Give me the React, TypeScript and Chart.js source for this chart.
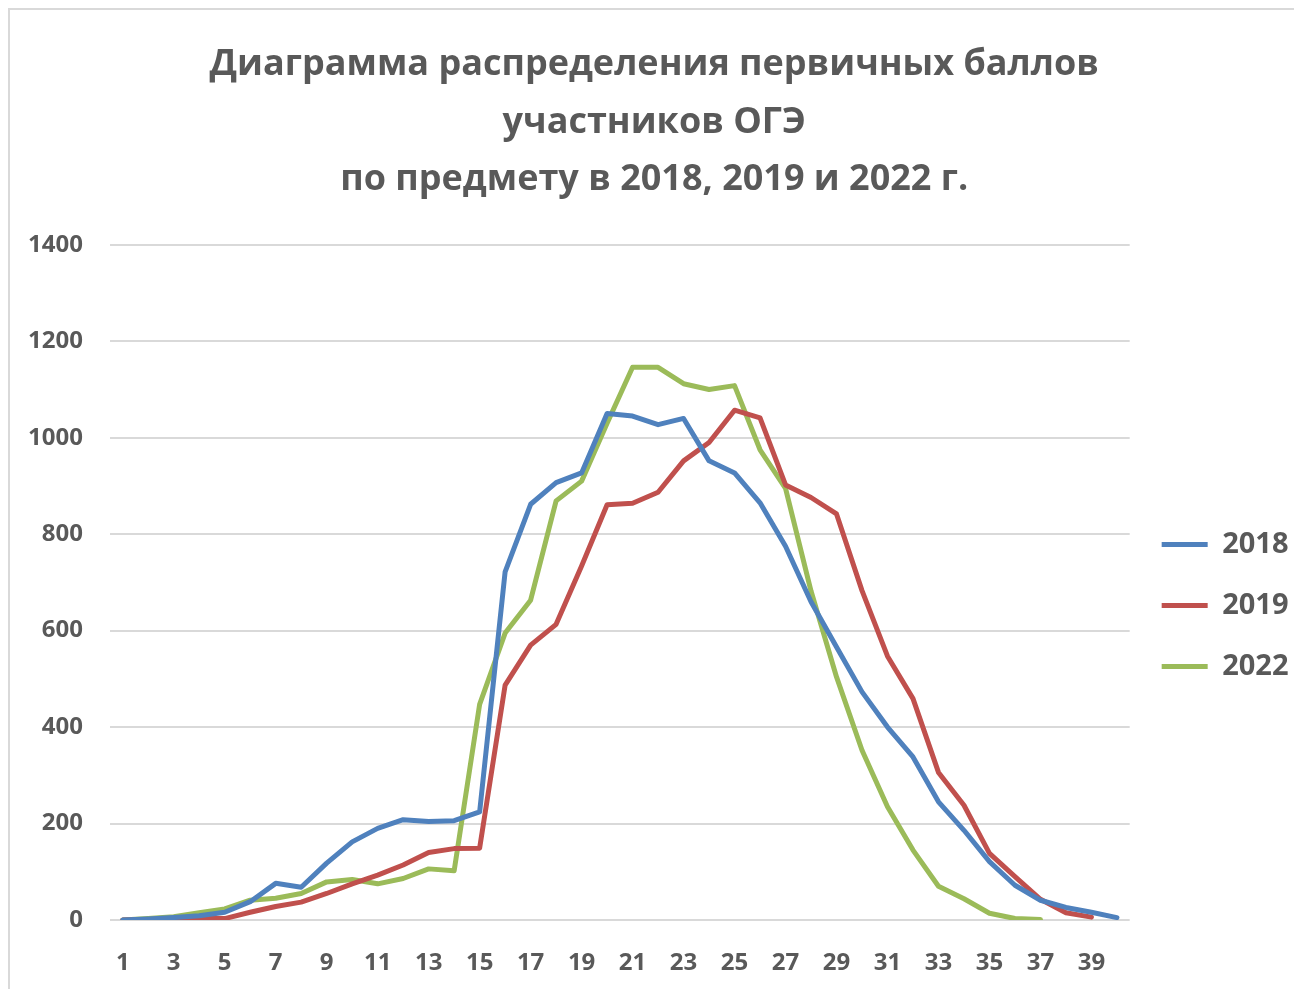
import React, { useEffect, useRef } from "react";
import { Chart, registerables } from "chart.js";

Chart.register(...registerables);

const categories: string[] = Array.from({ length: 40 }, (_, i) => String(i + 1));

const series2018: (number | null)[] = [
  0, 2, 5, 9, 16, 38, 76, 68, 118, 162, 190, 208, 204, 206, 224, 722, 862, 907, 927, 1050,
  1045, 1027, 1040, 952, 927, 865, 775, 660, 566, 473, 400, 338, 245, 186, 121, 72, 41, 26, 16, 5,
];

const series2019: (number | null)[] = [
  0, 1, 2, 4, 3, 16, 28, 37, 55, 75, 93, 114, 140, 148, 149, 487, 570, 613, 734, 861,
  864, 887, 952, 990, 1057, 1041, 902, 876, 842, 683, 547, 459, 306, 238, 138, 90, 43, 15, 6, null,
];

const series2022: (number | null)[] = [
  0, 3, 7, 15, 23, 41, 45, 55, 79, 84, 75, 86, 106, 102, 447, 595, 663, 869, 910, 1030,
  1146, 1146, 1112, 1100, 1108, 975, 895, 682, 504, 352, 235, 145, 70, 44, 14, 3, 1, null, null, null,
];

const seriesNames: string[] = ["2018", "2019", "2022"];
const seriesColors: string[] = ["#4f81bd", "#c0504d", "#9bbb59"];

const titleLines: string[] = [
  "Диаграмма распределения первичных баллов",
  "участников ОГЭ",
  "по предмету в 2018, 2019 и 2022 г.",
];

const yMin = 0;
const yMax = 1400;
const yStep = 200;

const FONT = "'Open Sans', 'Noto Sans', 'DejaVu Sans', sans-serif";
const TEXT_COLOR = "#595959";

export default function App() {
  const canvasRef = useRef<HTMLCanvasElement | null>(null);

  useEffect(() => {
    if (!canvasRef.current) return;
    const data = [series2018, series2019, series2022];
    const chart = new Chart(canvasRef.current, {
      type: "line",
      data: {
        labels: categories,
        datasets: seriesNames.map((name, i) => ({
          label: name,
          data: data[i],
          borderColor: seriesColors[i],
          backgroundColor: seriesColors[i],
          borderWidth: 5,
          pointRadius: 0,
          pointHoverRadius: 0,
          pointStyle: "line" as const,
          tension: 0,
          fill: false,
          spanGaps: false,
          borderJoinStyle: "round" as const,
          borderCapStyle: "round" as const,
        })),
      },
      options: {
        animation: false,
        responsive: false,
        maintainAspectRatio: false,
        layout: { padding: { left: 0, right: 3.5, top: 0, bottom: 0 } },
        plugins: {
          tooltip: { enabled: false },
          title: {
            display: true,
            text: titleLines,
            color: TEXT_COLOR,
            font: { family: FONT, size: 36, weight: "bold", lineHeight: 1.6 },
            padding: { top: 26, bottom: 36 },
          },
          legend: {
            display: true,
            position: "right",
            title: {
              display: true,
              text: " ",
              font: { size: 10, lineHeight: 1.2 },
              padding: { top: 200, bottom: 0 },
            },
            labels: {
              color: TEXT_COLOR,
              font: { family: FONT, size: 29, weight: "bold" },
              usePointStyle: true,
              pointStyleWidth: 46,
              boxHeight: 5,
              padding: 32,
            },
          },
        },
        scales: {
          x: {
            type: "category",
            offset: true,
            grid: { display: false, drawTicks: false },
            border: { display: false },
            ticks: {
              autoSkip: false,
              maxRotation: 0,
              minRotation: 0,
              padding: 29,
              color: TEXT_COLOR,
              font: { family: FONT, size: 24, weight: "bold" },
              callback: (_v: any, index: number) => (index % 2 === 0 ? categories[index] : ""),
            },
            afterFit: (scale: any) => {
              scale.height = 69;
            },
          },
          y: {
            min: yMin,
            max: yMax,
            grid: { color: "#d9d9d9", lineWidth: 2, drawTicks: false },
            border: { display: false },
            ticks: {
              stepSize: yStep,
              padding: 27,
              color: TEXT_COLOR,
              font: { family: FONT, size: 24, weight: "bold" },
              callback: (v: any) => String(v),
            },
            afterFit: (scale: any) => {
              scale.width = 100;
            },
          },
        },
      },
    });
    return () => chart.destroy();
  }, []);

  return (
    <div
      style={{
        width: 1294,
        height: 981,
        borderTop: "2px solid #d9d9d9",
        borderLeft: "2px solid #d9d9d9",
        boxSizing: "border-box",
        background: "#ffffff",
        overflow: "hidden",
      }}
    >
      <canvas ref={canvasRef} width={1292} height={979} style={{ display: "block" }} />
    </div>
  );
}
